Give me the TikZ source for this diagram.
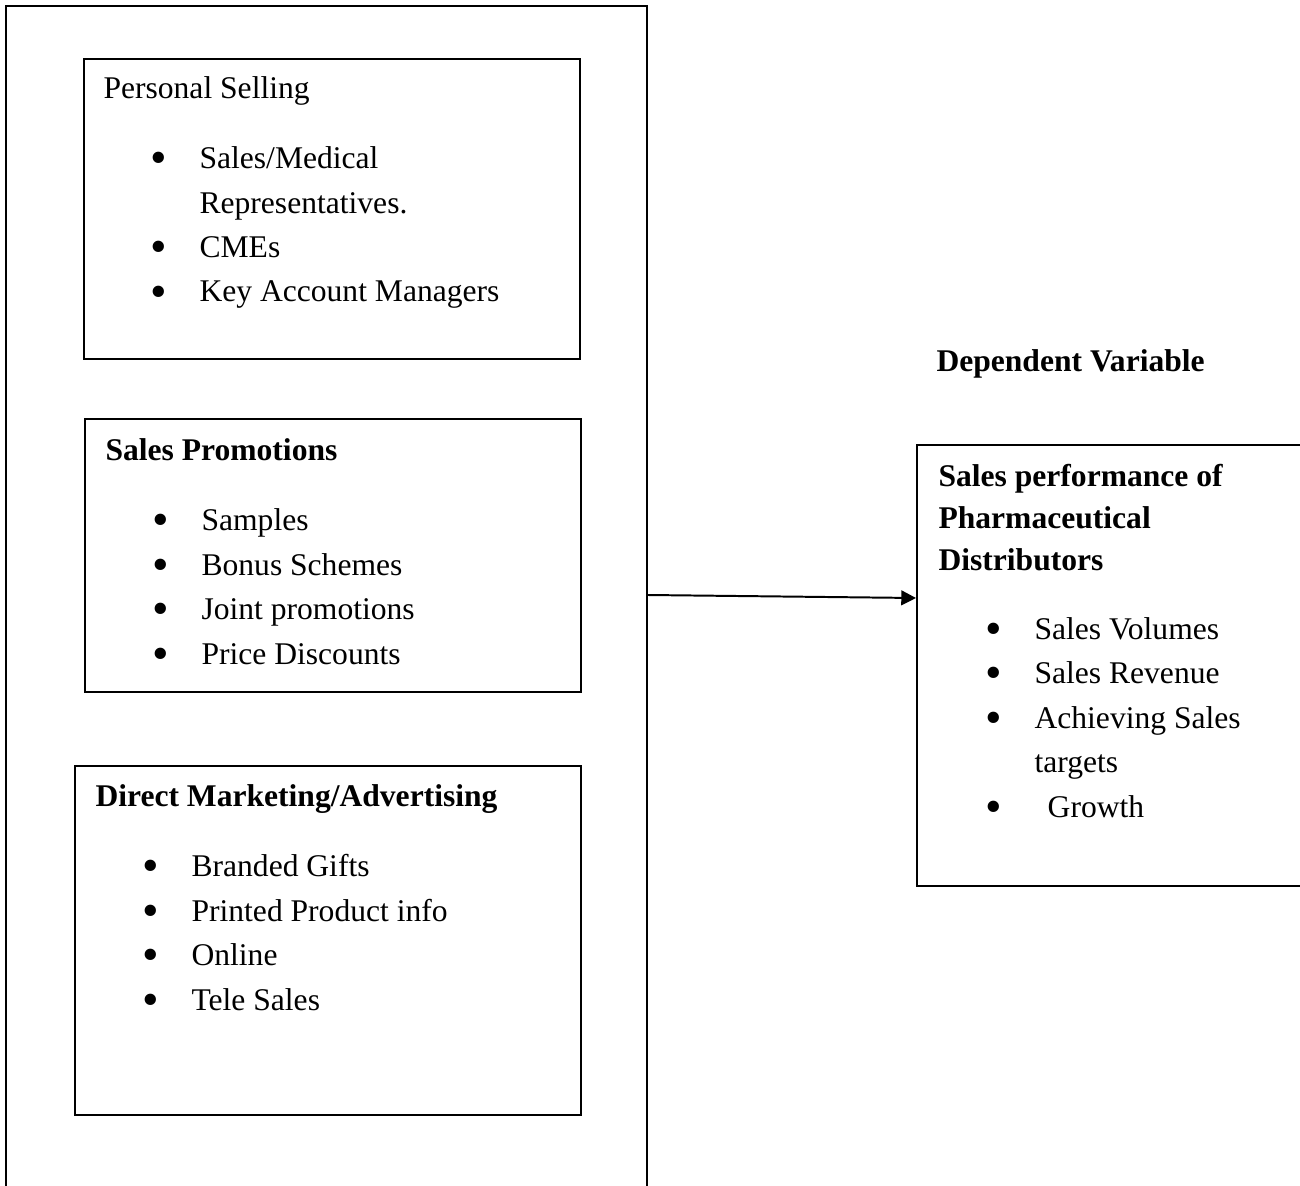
\documentclass[tikz,border=0pt]{standalone}
\usepackage{fontspec}
\setmainfont{Liberation Serif}
\usepackage{xcolor}
\usepackage{tikz}
\usetikzlibrary{arrows.meta,fit}

% list lines inside the boxes
\newcommand{\bdot}{\raisebox{-1.9pt}{\scalebox{1.5}{\textbullet}}}
\newcommand{\bitem}[1]{\hspace*{36.5pt}\llap{\bdot\hspace{12.4pt}}#1}
\newcommand{\bcont}[1]{\hspace*{36.5pt}#1}

\begin{document}
\begin{tikzpicture}[
  x=0.38pt, y=-0.38pt,
  box/.style={draw, line width=0.75pt, inner sep=0pt},
  txt/.style={anchor=base west, inner sep=0pt, align=left, font=\fontsize{12}{16.9}\selectfont},
  arrow/.style={-{Triangle[length=5.6pt,width=5.6pt]}, line width=0.75pt}
]
\useasboundingbox (0,0) rectangle (1300,1186);

% independent side
\node[box, fit={(6,6) (647,1200)}] (iv) {};
\node[box, fit={(84,59) (580,359)}] (ps) {};
\node[box, fit={(85,419) (581,692)}] (sp) {};
\node[box, fit={(75,766) (581,1115)}] (dm) {};

% text blocks sit on the baseline of their last line
\node[txt] (pstext) at (103,302) {Personal Selling\\[9.7pt]
  \bitem{Sales/Medical}\\
  \bcont{Representatives.}\\
  \bitem{CMEs}\\
  \bitem{Key Account Managers}};
\node[txt] (sptext) at (105,664) {\textbf{Sales Promotions}\\[9.7pt]
  \bitem{Samples}\\
  \bitem{Bonus Schemes}\\
  \bitem{Joint promotions}\\
  \bitem{Price Discounts}};
\node[txt] (dmtext) at (95,1010) {\textbf{Direct Marketing/Advertising}\\[9.7pt]
  \bitem{Branded Gifts}\\
  \bitem{Printed Product info}\\
  \bitem{Online}\\
  \bitem{Tele Sales}};

% dependent side
\node[txt] (dvlabel) at (936,371) {\textbf{Dependent Variable}};
\node[box, fit={(917,445) (1310,886)}] (dv) {};
\node[txt] (dvtext) at (938,817) {\textbf{Sales performance of}\\[-1pt]
  \textbf{Pharmaceutical}\\[-1pt]
  \textbf{Distributors}\\[9.3pt]
  \bitem{Sales Volumes}\\
  \bitem{Sales Revenue}\\
  \bitem{Achieving Sales}\\
  \bcont{targets}\\
  \bitem{\hspace*{5pt}Growth}};

\draw[arrow] (iv.east |- 0,595) -- (dv.west |- 0,598);
\end{tikzpicture}
\end{document}
